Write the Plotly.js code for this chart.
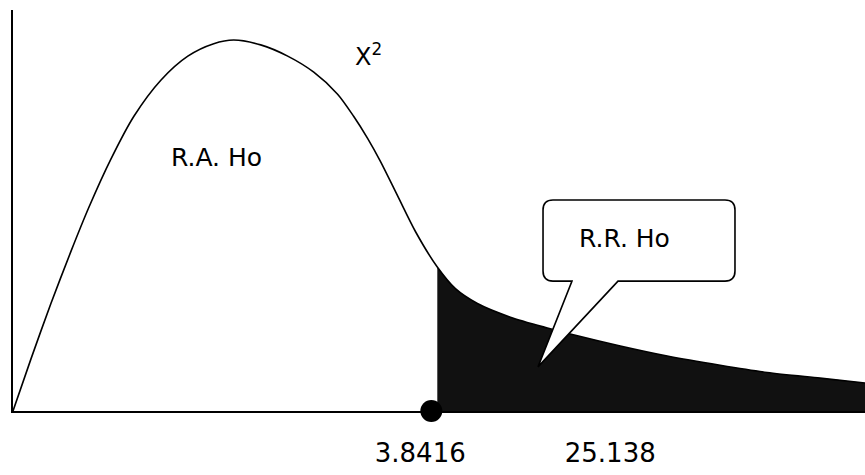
<!DOCTYPE html>
<html>
<head>
<meta charset="utf-8">
<script src="https://cdn.plot.ly/plotly-3.0.1.min.js"></script>
<style>html,body{margin:0;padding:0;background:#fff;}#chart{width:865px;height:475px;}</style>
</head>
<body>
<div id="chart"></div>
<script>
// Curve (schematic chi-square density)
const curveX = [0, 0.211, 0.445, 0.680, 0.891, 1.149, 1.419, 1.735, 2.052, 2.356, 2.591, 2.907, 3.224, 3.530, 3.810, 3.998, 4.162, 4.314, 4.513, 4.725, 4.98, 5.193, 5.451, 5.838, 6.272, 6.577, 7.128, 7.679, 8.300, 8.851, 9.473, 10.0];
const curveY = [0, 0.130, 0.268, 0.398, 0.508, 0.628, 0.735, 0.825, 0.885, 0.916, 0.925, 0.913, 0.885, 0.845, 0.790, 0.735, 0.680, 0.622, 0.537, 0.447, 0.359, 0.305, 0.268, 0.234, 0.207, 0.190, 0.162, 0.137, 0.114, 0.096, 0.082, 0.070];
const criticalX = 4.98;          // start of the rejection region
const markerX = [4.91];          // dot on the axis
const markerY = [0];
const tickPositions = [4.78, 7.01];
const tickLabels = ['3.8416', '25.138'];
const labelAccept = 'R.A. Ho';
const labelReject = 'R.R. Ho';
const labelCurve = 'X<sup>2</sup>';

const shadeX = [], shadeY = [];
curveX.forEach((x, i) => { if (x >= criticalX) { shadeX.push(x); shadeY.push(curveY[i]); } });

const font = 'DejaVu Sans, Arial, sans-serif';

const traces = [
  { x: shadeX, y: shadeY, type: 'scatter', mode: 'lines', fill: 'tozeroy',
    fillcolor: '#111111', line: { width: 0, color: '#111111', shape: 'spline', smoothing: 0.8 }, hoverinfo: 'skip' },
  { x: curveX, y: curveY, type: 'scatter', mode: 'lines',
    line: { color: '#000', width: 1.6, shape: 'spline', smoothing: 0.8 }, hoverinfo: 'skip' },
  { x: markerX, y: markerY, type: 'scatter', mode: 'markers', cliponaxis: false,
    marker: { color: '#000', size: 22 }, hoverinfo: 'skip' }
];

const layout = {
  width: 865, height: 475,
  margin: { l: 13, r: 0, t: 10, b: 64 },
  paper_bgcolor: '#fff', plot_bgcolor: '#fff',
  showlegend: false,
  xaxis: { range: [0, 10], showgrid: false, zeroline: false, showline: true,
    linecolor: '#000', linewidth: 2, ticks: '', tickvals: tickPositions, ticktext: tickLabels,
    ticklabelstandoff: 18, tickfont: { family: font, size: 26, color: '#000' }, fixedrange: true },
  yaxis: { range: [0, 1], showgrid: false, zeroline: false, showline: true,
    linecolor: '#000', linewidth: 2, ticks: '', showticklabels: false, fixedrange: true },
  shapes: [
    { type: 'path', xref: 'x', yref: 'y', layer: 'above',
      path: 'M 6.338,0.526 L 8.357,0.526 Q 8.474,0.526 8.474,0.501 L 8.474,0.349 Q 8.474,0.324 8.357,0.324 L 7.101,0.324 L 6.162,0.110 L 6.561,0.324 L 6.338,0.324 Q 6.221,0.324 6.221,0.349 L 6.221,0.501 Q 6.221,0.526 6.338,0.526 Z',
      fillcolor: '#fff', line: { color: '#000', width: 1.6 } }
  ],
  annotations: [
    { x: 2.39, y: 0.631, xref: 'x', yref: 'y', text: labelAccept, showarrow: false,
      font: { family: font, size: 25, color: '#000' } },
    { x: 7.18, y: 0.429, xref: 'x', yref: 'y', text: labelReject, showarrow: false,
      font: { family: font, size: 25, color: '#000' } },
    { x: 3.99, y: 0.888, xref: 'x', yref: 'y', xanchor: 'left', text: labelCurve, showarrow: false,
      font: { family: font, size: 24, color: '#000' } }
  ]
};

Plotly.newPlot('chart', traces, layout, { displayModeBar: false, staticPlot: true });
</script>
</body>
</html>
